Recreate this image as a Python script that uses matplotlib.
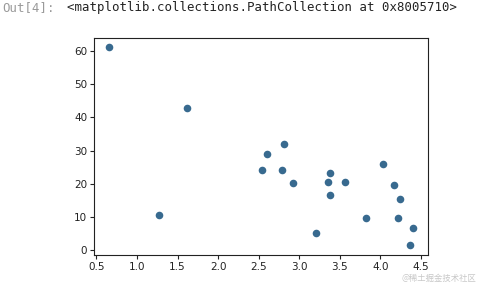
import matplotlib
matplotlib.use("Agg")
import matplotlib.pyplot as plt

# values
x_vals = [0.661, 1.266, 1.612, 2.540, 2.601, 2.787, 2.808, 2.923, 3.207, 3.355,
          3.380, 3.380, 3.565, 3.821, 4.035, 4.167, 4.245, 4.221, 4.402, 4.365]
y_vals = [61.0, 10.6, 42.7, 24.1, 28.9, 24.1, 31.9, 20.2, 5.2, 20.5,
          23.2, 16.6, 20.5, 9.7, 25.9, 19.6, 15.4, 9.7, 6.7, 1.6]
x_ticks = [0.5, 1.0, 1.5, 2.0, 2.5, 3.0, 3.5, 4.0, 4.5]
y_ticks = [0, 10, 20, 30, 40, 50, 60]

fig = plt.figure(figsize=(4.81, 2.87), dpi=100)
ax = fig.add_axes([0.196, 0.112, 0.694, 0.757])

ax.scatter(x_vals, y_vals, s=30, color="#386a8f", linewidths=0)
ax.set_xticks(x_ticks)
ax.set_yticks(y_ticks)
ax.tick_params(labelsize=7.5, length=3, width=0.8, pad=2, colors="#222222")
for sp in ax.spines.values():
    sp.set_linewidth(0.8)
    sp.set_color("#222222")

# notebook output line above the figure
fig.text(0.004, 0.974, "Out[4]:", family="DejaVu Sans Mono", fontsize=8.9,
         color="#9a9a9a", va="center", ha="left")
fig.text(0.14, 0.974, "<matplotlib.collections.PathCollection at 0x8005710>",
         family="DejaVu Sans Mono", fontsize=8.9, color="#222222",
         va="center", ha="left")

# watermark
fig.text(0.99, 0.03, "@稀土掘金技术社区", family=["Noto Sans CJK SC", "DejaVu Sans"],
         fontsize=6, color="#c8c8c8", va="center", ha="right")

fig.savefig("out.png", dpi=100)
